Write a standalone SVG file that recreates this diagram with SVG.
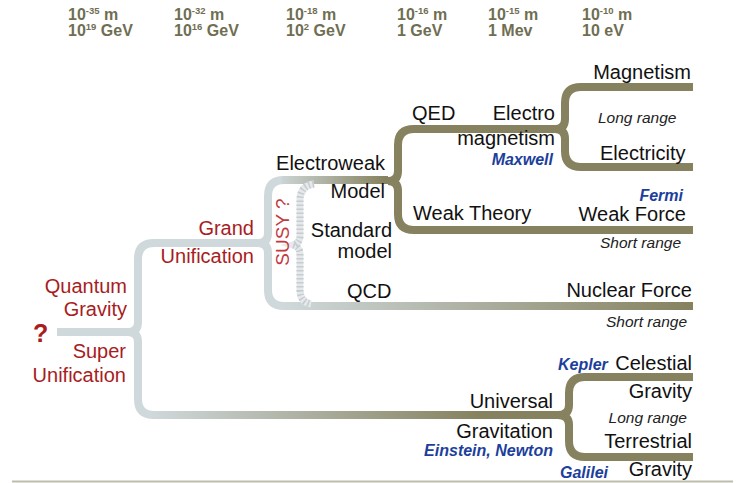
<svg xmlns="http://www.w3.org/2000/svg" width="739" height="483" viewBox="0 0 739 483">
<style>
text{font-family:"Liberation Sans",Arial,sans-serif}
.hd{font-family:"Liberation Sans Narrow","Liberation Sans",Arial,sans-serif;font-stretch:condensed;font-size:16px;font-weight:bold;fill:#6f6e52}
.sup{font-size:9.5px}
.rd{font-size:20px;fill:#a81c22}
.bk{font-size:20px;fill:#111}
.it{font-size:15.5px;font-style:italic;fill:#222}
.bl{font-size:16px;font-weight:bold;font-style:italic;fill:#1d3f9c}
.e{text-anchor:end}
.br{fill:none;stroke-width:8;stroke-linecap:butt;stroke-linejoin:round}
.lt{stroke:#cfd9db}
.ol{stroke:#86825f}
</style>
<defs>
<linearGradient id="gU" gradientUnits="userSpaceOnUse" x1="150" y1="0" x2="480" y2="0"><stop offset="0" stop-color="#cfd9db"/><stop offset="1" stop-color="#86825f"/></linearGradient>
<linearGradient id="gE" gradientUnits="userSpaceOnUse" x1="276" y1="0" x2="385" y2="0"><stop offset="0" stop-color="#cfd9db"/><stop offset="1" stop-color="#86825f"/></linearGradient>
<linearGradient id="gN" gradientUnits="userSpaceOnUse" x1="282" y1="0" x2="690" y2="0"><stop offset="0" stop-color="#cfd9db"/><stop offset="1" stop-color="#86825f"/></linearGradient>
</defs>
<rect width="739" height="483" fill="#fff"/>
<g id="scale">
<text class="hd" x="68" y="20">10<tspan class="sup" dy="-6">-35</tspan><tspan dy="6"> m</tspan></text>
<text class="hd" x="68" y="36">10<tspan class="sup" dy="-6">19</tspan><tspan dy="6"> GeV</tspan></text>
<text class="hd" x="174" y="20">10<tspan class="sup" dy="-6">-32</tspan><tspan dy="6"> m</tspan></text>
<text class="hd" x="174" y="36">10<tspan class="sup" dy="-6">16</tspan><tspan dy="6"> GeV</tspan></text>
<text class="hd" x="286" y="20">10<tspan class="sup" dy="-6">-18</tspan><tspan dy="6"> m</tspan></text>
<text class="hd" x="286" y="36">10<tspan class="sup" dy="-6">2</tspan><tspan dy="6"> GeV</tspan></text>
<text class="hd" x="397" y="20">10<tspan class="sup" dy="-6">-16</tspan><tspan dy="6"> m</tspan></text>
<text class="hd" x="397" y="36">1 GeV</text>
<text class="hd" x="488" y="20">10<tspan class="sup" dy="-6">-15</tspan><tspan dy="6"> m</tspan></text>
<text class="hd" x="488" y="36">1 Mev</text>
<text class="hd" x="582" y="20">10<tspan class="sup" dy="-6">-10</tspan><tspan dy="6"> m</tspan></text>
<text class="hd" x="582" y="36">10 eV</text>
</g>
<g id="connectors">
<path class="br lt" d="M57,332 H128 Q138,332 138,322 V259 Q138,243 154,243 H258 M128,332 Q138,332 138,342 V399 Q138,415 154,415"/>
<path class="br" stroke="url(#gU)" d="M152,415 H558"/>
<path class="br lt" d="M258,243 Q268,243 268,233 V196 Q268,180 284,180 M258,243 Q268,243 268,253 V290 Q268,306 284,306"/>
<path class="br" stroke="url(#gE)" d="M282,180 H388"/>
<path class="br" stroke="url(#gN)" d="M282,306 H693"/>
<path class="br ol" d="M388,181 Q398,181 398,171 V145 Q398,129 414,129 H555 M388,181 Q398,181 398,191 V214 Q398,230 414,230 H693"/>
<path class="br ol" d="M555,129 Q565,129 565,119 V103 Q565,87 581,87 H693 M555,129 Q565,129 565,139 V151 Q565,167 581,167 H693"/>
<path class="br ol" d="M558,415 Q569,415 569,405 V393 Q569,377 585,377 H693 M558,415 Q569,415 569,425 V441 Q569,457 585,457 H693"/>
<g id="susy-band" fill="none">
<path d="M314,184 Q300,186 300,200 V236 Q300,243 293,245 Q300,247 300,254 V290 Q300,302 311,304" stroke="#e6e9eb" stroke-width="7"/>
<path d="M314,184 Q300,186 300,200 V236 Q300,243 293,245 Q300,247 300,254 V290 Q300,302 311,304" stroke="#c6cccf" stroke-width="7" stroke-dasharray="1.5 2.5"/>
</g>
<line x1="12" y1="481.5" x2="733" y2="481.5" stroke="#bdbdae" stroke-width="2"/>
</g>
<g id="origin"><text x="33" y="342" font-size="25" font-weight="bold" fill="#a81c22">?</text></g>
<g id="quantum-gravity"><text class="rd e" x="127" y="293">Quantum</text><text class="rd e" x="127" y="316">Gravity</text></g>
<g id="super-unification"><text class="rd e" x="126" y="358">Super</text><text class="rd e" x="126" y="382">Unification</text></g>
<g id="grand-unification"><text class="rd e" x="254" y="235">Grand</text><text class="rd e" x="254" y="263">Unification</text></g>
<g id="susy"><text x="289" y="232" font-size="19" fill="#c23a3f" text-anchor="middle" transform="rotate(-90 289 232)">SUSY ?</text></g>
<g id="electroweak"><text class="bk e" x="385" y="170">Electroweak</text><text class="bk e" x="385" y="198">Model</text></g>
<g id="standard-model"><text class="bk e" x="392" y="237">Standard</text><text class="bk e" x="392" y="258">model</text></g>
<g id="qcd"><text class="bk" x="347" y="298">QCD</text></g>
<g id="qed"><text class="bk" x="412" y="120">QED</text></g>
<g id="electromagnetism"><text class="bk e" x="555" y="120">Electro</text><text class="bk e" x="555" y="145">magnetism</text><text class="bl e" x="553" y="165">Maxwell</text></g>
<g id="magnetism"><text class="bk e" x="691" y="79">Magnetism</text></g>
<g id="long-range-em"><text class="it" x="598" y="123">Long range</text></g>
<g id="electricity"><text class="bk" x="600" y="160">Electricity</text></g>
<g id="weak-theory"><text class="bk" x="413" y="220">Weak Theory</text></g>
<g id="weak-force"><text class="bl e" x="683" y="201">Fermi</text><text class="bk e" x="686" y="221">Weak Force</text><text class="it" x="600" y="248">Short range</text></g>
<g id="nuclear-force"><text class="bk e" x="692" y="297">Nuclear Force</text><text class="it e" x="687" y="327">Short range</text></g>
<g id="universal-gravitation"><text class="bk e" x="553" y="408">Universal</text><text class="bk e" x="553" y="438">Gravitation</text><text class="bl e" x="553" y="456">Einstein, Newton</text></g>
<g id="celestial-gravity"><text class="bl" x="558" y="370">Kepler</text><text class="bk e" x="692" y="370">Celestial</text><text class="bk e" x="692" y="398">Gravity</text></g>
<g id="long-range-grav"><text class="it e" x="687" y="423">Long range</text></g>
<g id="terrestrial-gravity"><text class="bk e" x="692" y="448">Terrestrial</text><text class="bl" x="560" y="478">Galilei</text><text class="bk e" x="692" y="476">Gravity</text></g>
</svg>
